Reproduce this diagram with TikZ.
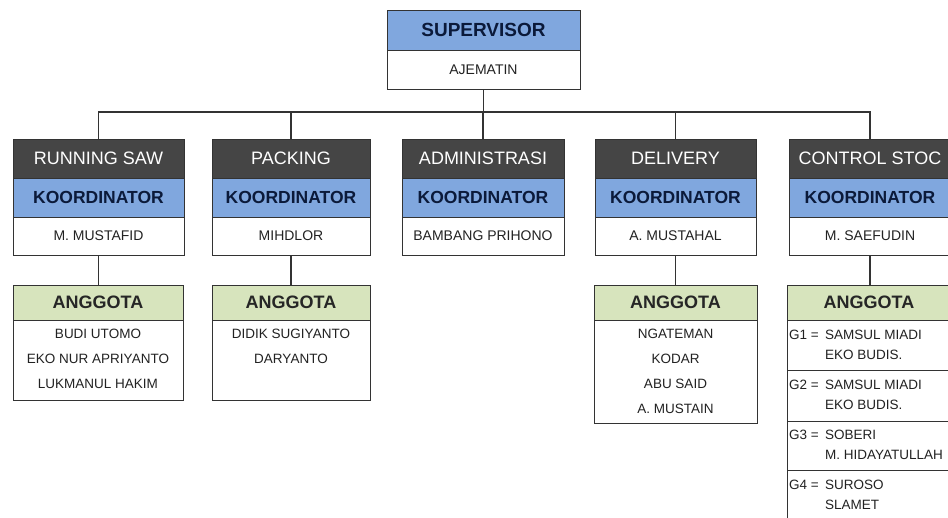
\documentclass[tikz,border=0pt]{standalone}
\usepackage{fontspec}
\setmainfont{Liberation Sans}
\definecolor{darkhead}{HTML}{454545}
\definecolor{bluehead}{HTML}{80A7DE}
\definecolor{greenhead}{HTML}{D7E4BD}
\definecolor{navytext}{HTML}{0B1A3A}
\definecolor{linec}{HTML}{333333}
\definecolor{bodytext}{HTML}{222222}
\newcommand{\cbox}[7]{\node[#6, minimum width=#4pt, minimum height=#5pt, anchor=north west] (#1) at (#2,#3) {#7};}
\begin{document}
\begin{tikzpicture}[x=1pt,y=-1pt,
  cellbase/.style={draw=linec, line width=1pt, inner sep=0pt, outer sep=0pt},
  darkcell/.style={cellbase, fill=darkhead, text=white, font=\fontsize{18}{20}\selectfont},
  bluecell/.style={cellbase, fill=bluehead, text=navytext, font=\bfseries\fontsize{17.5}{20}\selectfont},
  supcell/.style={cellbase, fill=bluehead, text=navytext, font=\bfseries\fontsize{19}{21}\selectfont},
  namecell/.style={cellbase, fill=white, text=bodytext, font=\fontsize{14}{16}\selectfont},
  greencell/.style={cellbase, fill=greenhead, text=black!85, font=\bfseries\fontsize{18}{20}\selectfont},
  bodycell/.style={cellbase, fill=white},
  members/.style={anchor=north, align=center, inner sep=0pt, text=bodytext, font=\fontsize{13.5}{25}\selectfont},
  gmembers/.style={anchor=west, inner sep=0pt, text=bodytext, font=\fontsize{13.5}{20}\selectfont},
  conn/.style={draw=linec, line width=1.3pt}]
\useasboundingbox (0,0) rectangle (948,517);
\fill[white] (0,0) rectangle (948,517);

% supervisor
\cbox{supH}{387}{10}{193}{40}{supcell}{SUPERVISOR}
\cbox{supN}{387}{50}{193}{39}{namecell}{AJEMATIN}

% departments
\cbox{rsT}{13}{139}{171}{39}{darkcell}{RUNNING SAW}
\cbox{rsK}{13}{178}{171}{39}{bluecell}{KOORDINATOR}
\cbox{rsN}{13}{217}{171}{38}{namecell}{M. MUSTAFID}

\cbox{pkT}{212}{139}{158}{39}{darkcell}{PACKING}
\cbox{pkK}{212}{178}{158}{39}{bluecell}{KOORDINATOR}
\cbox{pkN}{212}{217}{158}{38}{namecell}{MIHDLOR}

\cbox{adT}{402}{139}{162}{39}{darkcell}{ADMINISTRASI}
\cbox{adK}{402}{178}{162}{39}{bluecell}{KOORDINATOR}
\cbox{adN}{402}{217}{162}{38}{namecell}{BAMBANG PRIHONO}

\cbox{dlT}{595}{139}{161}{39}{darkcell}{DELIVERY}
\cbox{dlK}{595}{178}{161}{39}{bluecell}{KOORDINATOR}
\cbox{dlN}{595}{217}{161}{38}{namecell}{A. MUSTAHAL}

\cbox{csT}{789}{139}{162}{39}{darkcell}{CONTROL STOC}
\cbox{csK}{789}{178}{162}{39}{bluecell}{KOORDINATOR}
\cbox{csN}{789}{217}{162}{38}{namecell}{M. SAEFUDIN}

% anggota
\cbox{rsA}{13}{285}{170}{35}{greencell}{ANGGOTA}
\cbox{rsB}{13}{320}{170}{80}{bodycell}{}
\node[members] (rsM) at (98,329) {BUDI UTOMO\\EKO NUR APRIYANTO\\LUKMANUL HAKIM};

\cbox{pkA}{212}{285}{158}{35}{greencell}{ANGGOTA}
\cbox{pkB}{212}{320}{158}{80}{bodycell}{}
\node[members] (pkM) at (291,329) {DIDIK SUGIYANTO\\DARYANTO};

\cbox{dlA}{594}{285}{163}{35}{greencell}{ANGGOTA}
\cbox{dlB}{594}{320}{163}{103}{bodycell}{}
\node[members] (dlM) at (675.5,329) {NGATEMAN\\KODAR\\ABU SAID\\A. MUSTAIN};

\cbox{csA}{787}{285}{164}{35}{greencell}{ANGGOTA}
\cbox{csB1}{787}{320}{164}{50}{bodycell}{}
\cbox{csB2}{787}{370}{164}{51}{bodycell}{}
\cbox{csB3}{787}{421}{164}{49}{bodycell}{}
\cbox{csB4}{787}{470}{164}{60}{bodycell}{}
\node[gmembers] (g1) at (789,345) {\begin{tabular}{@{}p{36pt}@{}l@{}}G1 = & SAMSUL MIADI\\ & EKO BUDIS.\end{tabular}};
\node[gmembers] (g2) at (789,395.5) {\begin{tabular}{@{}p{36pt}@{}l@{}}G2 = & SAMSUL MIADI\\ & EKO BUDIS.\end{tabular}};
\node[gmembers] (g3) at (789,445.5) {\begin{tabular}{@{}p{36pt}@{}l@{}}G3 = & SOBERI\\ & M. HIDAYATULLAH\end{tabular}};
\node[gmembers] (g4) at (789,495) {\begin{tabular}{@{}p{36pt}@{}l@{}}G4 = & SUROSO\\ & SLAMET\end{tabular}};

% connectors
\coordinate (bus) at (485,112);
\draw[conn] (supN.south) -- (supN.south |- bus);
\draw[conn] (rsT.north) -- (rsT.north |- bus) -- (csT.north |- bus) -- (csT.north);
\draw[conn] (pkT.north) -- (pkT.north |- bus);
\draw[conn] (adT.north) -- (adT.north |- bus);
\draw[conn] (dlT.north) -- (dlT.north |- bus);

\draw[conn] (rsN.south) -- (rsN.south |- rsA.north);
\draw[conn] (pkN.south) -- (pkN.south |- pkA.north);
\draw[conn] (dlN.south) -- (dlN.south |- dlA.north);
\draw[conn] (csN.south) -- (csN.south |- csA.north);
\end{tikzpicture}
\end{document}
